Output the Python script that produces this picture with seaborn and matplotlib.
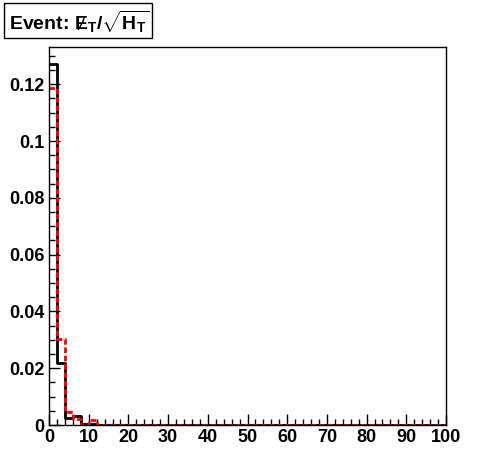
import matplotlib
matplotlib.use('Agg')
import matplotlib.pyplot as plt
import pandas as pd
import seaborn as sns
from matplotlib.patches import Rectangle
from matplotlib.ticker import MultipleLocator

# Histogram contents, 50 bins of width 2 from 0 to 100
edges = list(range(0, 102, 2))
black_vals = [0.127, 0.022, 0.0026, 0.0033, 0.0003, 0.0004] + [0.0] * 44
red_vals = [0.1185, 0.0304, 0.0045, 0.0022, 0.0, 0.0017] + [0.0] * 44
x_ticks = [0, 10, 20, 30, 40, 50, 60, 70, 80, 90, 100]
y_ticks = [0, 0.02, 0.04, 0.06, 0.08, 0.1, 0.12]
y_labels = ['0', '0.02', '0.04', '0.06', '0.08', '0.1', '0.12']

sns.set_style('white')
plt.rcParams['font.family'] = ['Liberation Sans', 'DejaVu Sans']
plt.rcParams['mathtext.fontset'] = 'custom'
plt.rcParams['mathtext.rm'] = 'Liberation Sans:bold'
plt.rcParams['mathtext.bf'] = 'Liberation Sans:bold'
plt.rcParams['mathtext.it'] = 'Liberation Sans:bold'

W, H = 496, 472
fig = plt.figure(figsize=(W / 100, H / 100), dpi=100)
ax = fig.add_axes([49 / W, 1 - 425 / H, 397 / W, 378 / H])

centers = [e + 1 for e in edges[:-1]]
df_black = pd.DataFrame({'x': centers, 'w': black_vals})
df_red = pd.DataFrame({'x': centers, 'w': red_vals})
sns.histplot(data=df_black, x='x', weights='w', bins=edges, element='step', fill=False,
             color='black', linewidth=2, ax=ax)
sns.histplot(data=df_red, x='x', weights='w', bins=edges, element='step', fill=False,
             color='red', linewidth=2, linestyle=(0, (2, 1)), ax=ax)

ax.set_xlim(0, 100)
ax.set_ylim(0, 0.1331)
ax.set_xlabel('')
ax.set_ylabel('')
ax.set_xticks(x_ticks)
ax.set_xticklabels([str(t) for t in x_ticks])
ax.set_yticks(y_ticks)
ax.set_yticklabels(y_labels)
ax.xaxis.set_minor_locator(MultipleLocator(2))
ax.yaxis.set_minor_locator(MultipleLocator(0.005))
ax.tick_params(which='both', direction='in', bottom=True, left=True, top=False, right=False,
               color='black', labelcolor='black')
ax.tick_params(which='major', length=8, width=1, labelsize=13, pad=3)
ax.tick_params(which='minor', length=4, width=1)
for lab in ax.get_xticklabels() + ax.get_yticklabels():
    lab.set_fontweight('bold')
for s in ax.spines.values():
    s.set_color('black')
    s.set_linewidth(1)

# title box in the top-left corner
fig.patches.append(Rectangle((4 / W, 1 - 38 / H), 148 / W, 35 / H, transform=fig.transFigure,
                             facecolor='white', edgecolor='black', linewidth=1))
fig.text(9 / W, 1 - 30 / H, r'Event: $\mathbf{Ɇ_T/\sqrt{H_T}}$', fontsize=14,
         fontweight='bold', color='black', va='baseline', ha='left')

fig.savefig('out.png', dpi=100, facecolor='white')
